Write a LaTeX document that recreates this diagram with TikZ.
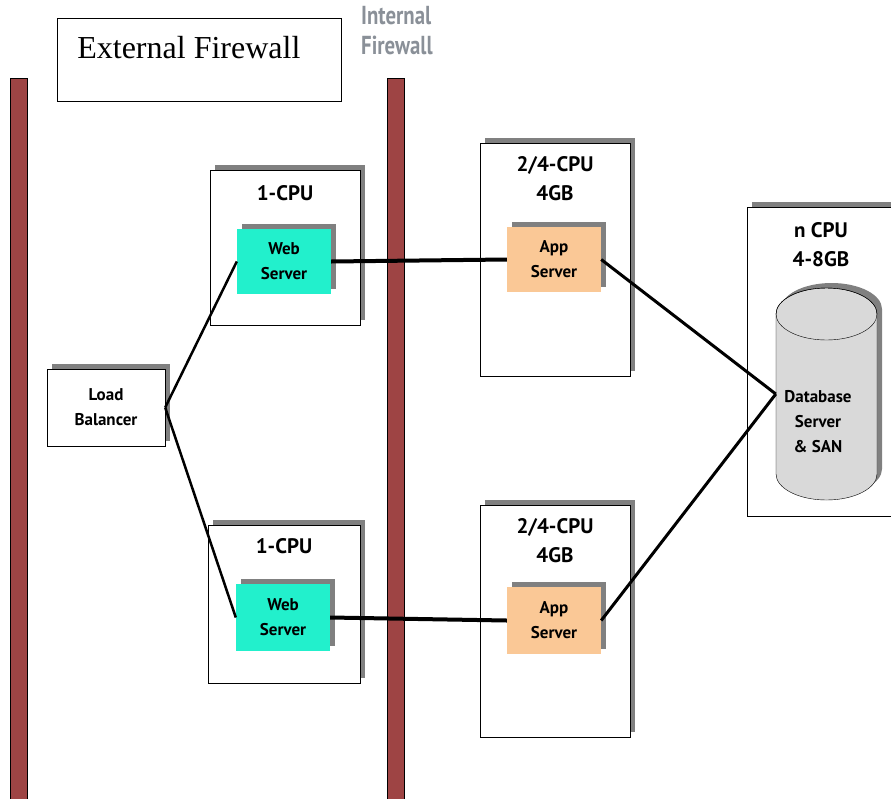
\documentclass[tikz,border=0pt]{standalone}
\usepackage{fontspec}
\setmainfont{Liberation Serif}
\newfontfamily\boxfont{PT Sans}
\newfontfamily\wallfont[FakeStretch=0.8]{PT Sans}
\usetikzlibrary{positioning, shadows}
\definecolor{wallred}{HTML}{9E4444}
\definecolor{webcyan}{HTML}{22F0CC}
\definecolor{apppeach}{HTML}{FAC896}
\definecolor{dbgray}{HTML}{D9D9D9}
\definecolor{labelgray}{HTML}{8A9098}

\begin{document}
\begin{tikzpicture}[x=1pt, y=-1pt,
		every edge/.style = {draw=black, line width=3pt},
		wall/.style = {draw=black, fill=wallred, line width=0.8pt,
			minimum width=17pt, minimum height=722pt, inner sep=0pt},
		shade/.style = {drop shadow={shadow xshift=5pt, shadow yshift=5pt,
			fill=gray, opacity=1}},
		host/.style args = {#1/#2}{%
			draw, fill=white, thin, shade,
			minimum width=#1, minimum height=#2, inner sep=0pt},
		srv/.style args = {#1/#2}{%
			fill=#1, shade, minimum width=94pt, minimum height=#2,
			inner sep=0pt, align=center,
			font=\boxfont\bfseries\fontsize{17}{25}\selectfont},
		cpu/.style = {anchor=north, align=center,
			font=\boxfont\bfseries\fontsize{21}{29.5}\selectfont}
                    ]
		\useasboundingbox (0,0) rectangle (891,798);

		% firewalls
		\node(extwall) [wall] at (18.5, 439) {};
		\node(intwall) [wall] at (395.5, 439) {};
		\node(extlabel) [draw, thin, minimum width=284pt, minimum height=83pt,
			label={[anchor=north west, font=\fontsize{32}{36}\selectfont,
			xshift=17pt, yshift=-15pt]north west:External Firewall}]
			at (199, 59.5) {};
		\node(intlabel) [anchor=north west, align=left, text=labelgray, inner sep=0pt,
			font=\wallfont\bfseries\fontsize{26}{30}\selectfont]
			at (361, 6) {Internal\\Firewall};

		% load balancer
		\node(lb) [host=118pt/77pt, align=center,
			font=\boxfont\bfseries\fontsize{17}{25}\selectfont]
			at (106, 407.5) {Load\\Balancer};

		% web tier
		\node(hostA) [host=150pt/155pt,
			label={[cpu, yshift=-12pt]north:1-CPU}] at (285, 247.5) {};
		\node(webA) [srv=webcyan/65pt] at (284, 261.5) {Web\\Server};
		\node(hostB) [host=152pt/158pt,
			label={[cpu, yshift=-10pt]north:1-CPU}] at (284, 604) {};
		\node(webB) [srv=webcyan/67pt] at (283, 617.5) {Web\\Server};

		% app tier
		\node(hostC) [host=150pt/233pt,
			label={[cpu, yshift=-10pt]north:2/4-CPU\\4GB}] at (555, 259.5) {};
		\node(appA) [srv=apppeach/65pt] at (554, 259.5) {App\\Server};
		\node(hostD) [host=150pt/232pt,
			label={[cpu, yshift=-10pt]north:2/4-CPU\\4GB}] at (555, 621) {};
		\node(appB) [srv=apppeach/67pt] at (554, 620.5) {App\\Server};

		% database
		\node(hostE) [host=148pt/309pt,
			label={[cpu, yshift=-12pt]north:n CPU\\4-8GB}] at (821, 361.5) {};
		\fill[gray] (781,309) -- (781,469) arc(180:0:50.5 and 26)
			-- (882,309) arc(360:180:50.5 and 26) -- cycle;
		\filldraw[fill=dbgray, thin] (776,314) -- (776,474) arc(180:0:50.5 and 26)
			-- (877,314) arc(360:180:50.5 and 26) -- cycle;
		\draw[thin] (826.5,314) ellipse (50.5 and 26);
		\node(db) [minimum width=101pt, minimum height=212pt, inner sep=0pt]
			at (826.5, 394) {};
		\node(dbtext) [align=center,
			font=\boxfont\bfseries\fontsize{17}{25}\selectfont]
			at (818, 422) {Database\\Server\\\& SAN};

		\path   (lb.east) edge [line width=2.5pt] (webA.west)
			(lb.east) edge [line width=2.5pt] (webB.west)
			(webA.east) edge [line width=4pt] (appA.west)
			(webB.east) edge [line width=4pt] (appB.west)
			(appA.east) edge (db.west)
			(appB.east) edge (db.west);
	\end{tikzpicture}
\end{document}
